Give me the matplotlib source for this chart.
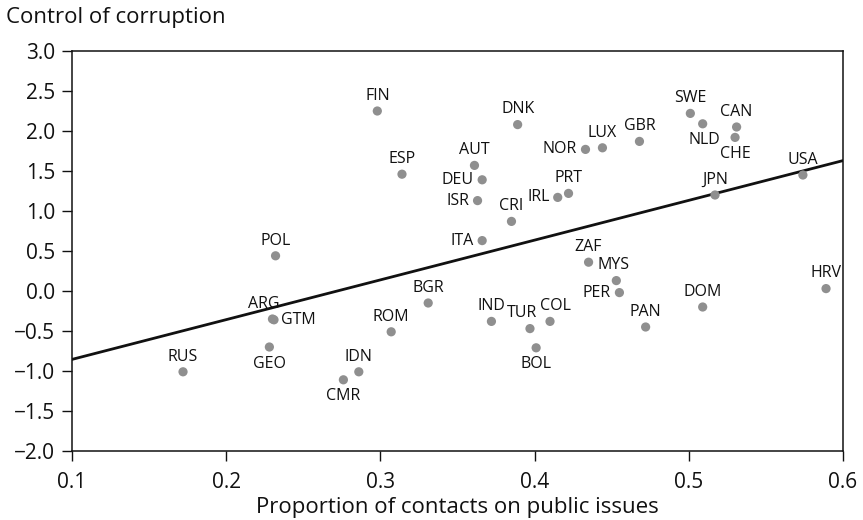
import matplotlib
matplotlib.use("Agg")
import matplotlib.pyplot as plt

plt.rcParams['font.family'] = ['Open Sans', 'DejaVu Sans']

countries = ["FIN", "ESP", "POL", "DNK", "AUT", "DEU", "ISR", "CRI", "ITA", "IRL",
             "PRT", "NOR", "LUX", "GBR", "SWE", "NLD", "CAN", "CHE", "USA", "JPN",
             "ZAF", "MYS", "PER", "HRV", "DOM", "IND", "TUR", "COL", "BOL", "PAN",
             "BGR", "ARG", "GTM", "GEO", "RUS", "ROM", "IDN", "CMR"]
contacts = [0.298, 0.314, 0.232, 0.389, 0.361, 0.366, 0.363, 0.385, 0.366, 0.415,
            0.422, 0.433, 0.444, 0.468, 0.501, 0.509, 0.531, 0.530, 0.574, 0.517,
            0.435, 0.453, 0.455, 0.589, 0.509, 0.372, 0.397, 0.410, 0.401, 0.472,
            0.331, 0.230, 0.231, 0.228, 0.172, 0.307, 0.286, 0.276]
corruption = [2.25, 1.46, 0.44, 2.08, 1.57, 1.39, 1.13, 0.87, 0.63, 1.17,
              1.22, 1.77, 1.79, 1.87, 2.22, 2.09, 2.05, 1.92, 1.45, 1.20,
              0.36, 0.13, -0.02, 0.03, -0.20, -0.38, -0.47, -0.38, -0.71, -0.45,
              -0.15, -0.35, -0.36, -0.70, -1.01, -0.51, -1.01, -1.11]
# where each country code sits relative to its point
placement = ["above", "above", "above", "above", "above", "left", "left", "above", "left", "left",
             "above", "left", "above", "above", "above", "below", "above", "below", "above", "above",
             "above", "above", "left", "above", "above", "above", "above", "above", "below", "above",
             "above", "above", "right", "below", "above", "above", "above", "below"]
# small horizontal nudges (points) for crowded labels
nudge = {"TUR": -6, "COL": 4, "ARG": -6, "NLD": 1, "MYS": -2}

fit_x = [0.1, 0.6]
fit_y = [-0.855, 1.63]

x_ticks = [0.1, 0.2, 0.3, 0.4, 0.5, 0.6]
y_ticks = [-2.0, -1.5, -1.0, -0.5, 0.0, 0.5, 1.0, 1.5, 2.0, 2.5, 3.0]

ink = "#111111"

fig = plt.figure(figsize=(8.63, 5.2), dpi=100)
ax = fig.add_axes([72 / 863, 69 / 520, 771 / 863, 400 / 520])

ax.plot(fit_x, fit_y, color=ink, lw=2.0, zorder=2)
ax.scatter(contacts, corruption, s=44, color="#8f8f8f", edgecolors="none", zorder=3)

for name, x, y, where in zip(countries, contacts, corruption, placement):
    dx = nudge.get(name, 0)
    if where == "above":
        off, ha, va = (dx, 11.0), "center", "center"
    elif where == "below":
        off, ha, va = (dx, -12.0), "center", "center"
    elif where == "left":
        off, ha, va = (-6.0, 0), "right", "center"
    else:
        off, ha, va = (5, 0), "left", "center"
    ax.annotate(name, (x, y), xytext=off, textcoords="offset points",
                ha=ha, va=va, fontsize=11.5, color=ink, zorder=4)

ax.set_xlim(0.1, 0.6)
ax.set_ylim(-2.0, 3.0)
ax.set_xticks(x_ticks)
ax.set_yticks(y_ticks)
ax.set_xticklabels([f"{v:.1f}" for v in x_ticks])
ax.set_yticklabels([f"{v:.1f}".replace("-", "\u2212") for v in y_ticks])
ax.tick_params(direction="out", length=7, width=1, labelsize=15, colors=ink)
ax.tick_params(axis="y", pad=5)
ax.tick_params(axis="x", pad=8)
for s in ax.spines.values():
    s.set_linewidth(1.1)
    s.set_color(ink)

fig.text(457.5 / 863, 1 - 513 / 520, "Proportion of contacts on public issues",
         ha="center", va="baseline", fontsize=16, color=ink)
fig.text(6 / 863, 1 - 23 / 520, "Control of corruption",
         ha="left", va="baseline", fontsize=16, color=ink)

fig.savefig("out.png", dpi=100)
